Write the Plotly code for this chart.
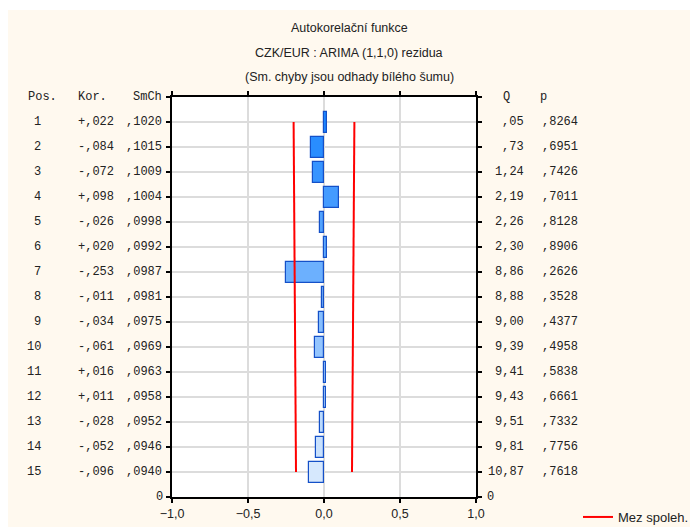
import plotly.graph_objects as go

# ---- data ----
lags = list(range(1, 16))
kor_values = [0.022, -0.084, -0.072, 0.098, -0.026, 0.020, -0.253, -0.011,
              -0.034, -0.061, 0.016, 0.011, -0.028, -0.052, -0.096]
kor_labels = ["+,022", "-,084", "-,072", "+,098", "-,026", "+,020", "-,253", "-,011",
              "-,034", "-,061", "+,016", "+,011", "-,028", "-,052", "-,096"]
smch_values = [0.1020, 0.1015, 0.1009, 0.1004, 0.0998, 0.0992, 0.0987, 0.0981,
               0.0975, 0.0969, 0.0963, 0.0958, 0.0952, 0.0946, 0.0940]
smch_labels = [",1020", ",1015", ",1009", ",1004", ",0998", ",0992", ",0987", ",0981",
               ",0975", ",0969", ",0963", ",0958", ",0952", ",0946", ",0940"]
q_labels = [",05", ",73", "1,24", "2,19", "2,26", "2,30", "8,86", "8,88",
            "9,00", "9,39", "9,41", "9,43", "9,51", "9,81", "10,87"]
p_labels = [",8264", ",6951", ",7426", ",7011", ",8128", ",8906", ",2626", ",3528",
            ",4377", ",4958", ",5838", ",6661", ",7332", ",7756", ",7618"]
x_ticks = [-1.0, -0.5, 0.0, 0.5, 1.0]

n = len(lags)
ypos = [n + 1 - l for l in lags]  # lag 1 at the top

# confidence limits (white-noise, 95 %)
upper = [1.96 * s for s in smch_values]
lower = [-1.96 * s for s in smch_values]

# bar colours: gradient dark -> light blue
c0 = (28, 134, 255)
c1 = (214, 232, 253)
bar_colors = []
for i in range(n):
    t = i / (n - 1)
    r, g, b = (round(c0[k] + t * (c1[k] - c0[k])) for k in range(3))
    bar_colors.append(f"rgb({r},{g},{b})")

# ---- geometry (screen pixels; page body has an 8px margin) ----
OFF = 8
W, H = 690, 519
L, R, T, B = 172, 476, 97, 497  # plot area in screen pixels
PW, PH = R - L, B - T


def px(xs):
    return (xs - L) / PW


def py(ys):
    return (B - ys) / PH


fig = go.Figure()
fig.add_trace(go.Bar(
    x=kor_values, y=ypos, orientation="h", width=0.84, base=0,
    marker=dict(color=bar_colors, line=dict(color="#1450c8", width=1.2)),
    showlegend=False, hoverinfo="x",
))
fig.add_trace(go.Scatter(
    x=lower + [None] + upper, y=ypos + [None] + ypos, mode="lines",
    line=dict(color="#ff0000", width=2), name="Mez spoleh.", showlegend=True,
))

mono = "Liberation Mono, Courier New, monospace"
txt = "#222222"
ann = []
ann.append(dict(text="Pos.", x=px(26), y=n + 1, xanchor="left"))
ann.append(dict(text="Kor.", x=px(76), y=n + 1, xanchor="left"))
ann.append(dict(text="SmCh", x=px(164), y=n + 1, xanchor="right"))
ann.append(dict(text="Q", x=px(501), y=n + 1, xanchor="left"))
ann.append(dict(text="p", x=px(538), y=n + 1, xanchor="left"))
for i in range(n):
    ann.append(dict(text=str(lags[i]), x=px(43), y=ypos[i], xanchor="right"))
    ann.append(dict(text=kor_labels[i], x=px(76), y=ypos[i], xanchor="left"))
    ann.append(dict(text=smch_labels[i], x=px(164), y=ypos[i], xanchor="right"))
    ann.append(dict(text=q_labels[i], x=px(526), y=ypos[i], xanchor="right"))
    ann.append(dict(text=p_labels[i], x=px(540), y=ypos[i], xanchor="left"))
ann.append(dict(text="0", x=px(165), y=0, xanchor="right"))
ann.append(dict(text="0", x=px(485), y=0, xanchor="left"))
for a in ann:
    a.update(xref="paper", yref="y", yanchor="middle", showarrow=False,
             font=dict(family=mono, size=12, color=txt))

titles = ["Autokorelační funkce", "CZK/EUR : ARIMA (1,1,0) rezidua",
          "(Sm. chyby jsou odhady bílého šumu)"]
for t, yy in zip(titles, [28, 53, 77]):
    ann.append(dict(text=t, x=px(349), y=py(yy), xref="paper", yref="paper",
                    xanchor="center", yanchor="middle", showarrow=False,
                    font=dict(family="Liberation Sans, Arial", size=12.5, color=txt)))

shapes = [
    dict(type="rect", xref="paper", yref="paper", x0=px(0), x1=px(710), y0=py(10), y1=py(0),
         fillcolor="white", line=dict(width=0), layer="above"),
]

fig.update_layout(
    width=W, height=H,
    margin=dict(l=L - OFF, r=W - (R - OFF), t=T - OFF, b=H - (B - OFF), pad=0,
                autoexpand=False),
    paper_bgcolor="#fff9ef", plot_bgcolor="white",
    separators=",.",
    bargap=0,
    annotations=ann, shapes=shapes,
    font=dict(family="Liberation Sans, Arial", size=12, color=txt),
    showlegend=True,
    legend=dict(x=px(578), y=py(502), xanchor="left", yanchor="top",
                bgcolor="rgba(0,0,0,0)", font=dict(size=13, color=txt),
                itemwidth=30),
)
fig.update_xaxes(
    range=[-1, 1], tickvals=x_ticks, tickformat=".1f",
    showgrid=True, gridcolor="#dcdcdc", gridwidth=1.5, zeroline=False,
    showline=True, linecolor="black", linewidth=2, mirror="ticks",
    ticks="outside", ticklen=4, tickwidth=2, tickcolor="black",
    tickfont=dict(size=12.5, color=txt),
)
fig.update_yaxes(
    range=[0, n + 1], tickvals=list(range(0, n + 2)), showticklabels=False,
    showgrid=True, gridcolor="#dcdcdc", gridwidth=1.5, zeroline=False,
    showline=True, linecolor="black", linewidth=2, mirror="ticks",
    ticks="outside", ticklen=4, tickwidth=2, tickcolor="black",
)

fig.write_html("out.html")
